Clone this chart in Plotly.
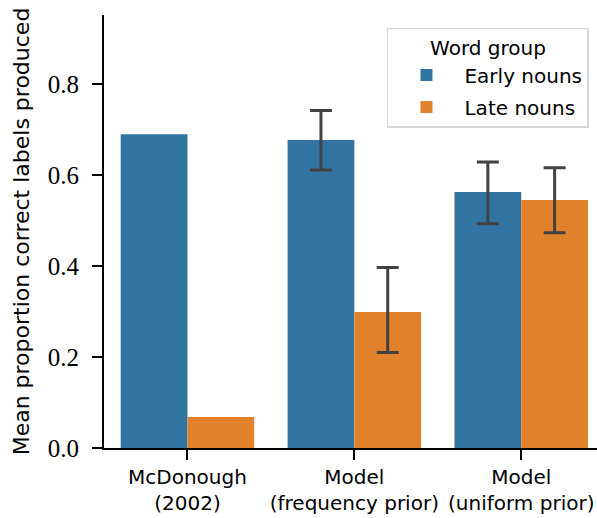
import plotly.graph_objects as go

categories = ["McDonough<br>(2002)", "Model<br>(frequency prior)", "Model<br>(uniform prior)"]
early = [0.690, 0.677, 0.563]
late = [0.068, 0.299, 0.545]
# confidence intervals (model conditions only; McDonough has no error bars)
early_hi = [None, 0.742, 0.629]
early_lo = [None, 0.611, 0.493]
late_hi = [None, 0.397, 0.616]
late_lo = [None, 0.210, 0.473]

BLUE = "#3274a1"
ORANGE = "#e1812c"
SANS = "DejaVu Sans, sans-serif"
SERIF = "Liberation Serif, DejaVu Serif, serif"
errstyle = dict(color="#424242", thickness=3, width=11)

fig = go.Figure()

def add_group(vals, hi, lo, name, color, group):
    no_err = [i for i, h in enumerate(hi) if h is None]
    with_err = [i for i, h in enumerate(hi) if h is not None]
    fig.add_trace(go.Bar(
        x=[categories[i] for i in no_err], y=[vals[i] for i in no_err],
        name=name, offsetgroup=group, legendgroup=group, showlegend=True,
        marker=dict(color=color, line=dict(width=0)),
    ))
    fig.add_trace(go.Bar(
        x=[categories[i] for i in with_err], y=[vals[i] for i in with_err],
        name=name, offsetgroup=group, legendgroup=group, showlegend=False,
        marker=dict(color=color, line=dict(width=0)),
        error_y=dict(type="data", symmetric=False,
                     array=[hi[i] - vals[i] for i in with_err],
                     arrayminus=[vals[i] - lo[i] for i in with_err], **errstyle),
    ))

add_group(early, early_hi, early_lo, "Early nouns", BLUE, "early")
add_group(late, late_hi, late_lo, "Late nouns", ORANGE, "late")

FS = 20

fig.update_layout(
    width=597, height=518,
    margin=dict(l=104, r=0, t=15, b=70),
    plot_bgcolor="white", paper_bgcolor="white",
    barmode="group", bargap=0.2, bargroupgap=0,
    font=dict(family=SANS, size=FS, color="black"),
    legend=dict(
        title=dict(text="Word group", side="top center", font=dict(family=SANS, size=FS)),
        x=0.574, y=0.970, xanchor="left", yanchor="top",
        bordercolor="#d6d6d6", borderwidth=1.5, bgcolor="white",
        font=dict(family=SANS, size=FS), tracegroupgap=3, itemwidth=66,
    ),
    xaxis=dict(
        categoryorder="array", categoryarray=categories,
        range=[-0.5, 2.454], showline=True, linecolor="black", linewidth=2,
        ticks="outside", ticklen=10, tickwidth=2, tickcolor="black",
        showgrid=False, zeroline=False,
        tickfont=dict(family=SANS, size=FS),
    ),
    yaxis=dict(
        range=[0, 0.952], showline=True, linecolor="black", linewidth=2,
        ticks="outside", ticklen=10, tickwidth=2, tickcolor="black",
        tickvals=[0, 0.2, 0.4, 0.6, 0.8], tickformat=".1f",
        showgrid=False, zeroline=False, ticklabelstandoff=8,
        tickfont=dict(family=SERIF, size=25),
        title=dict(text="Mean proportion correct labels produced", standoff=12,
                   font=dict(family=SANS, size=22)),
    ),
)

fig.write_html("out.html")
